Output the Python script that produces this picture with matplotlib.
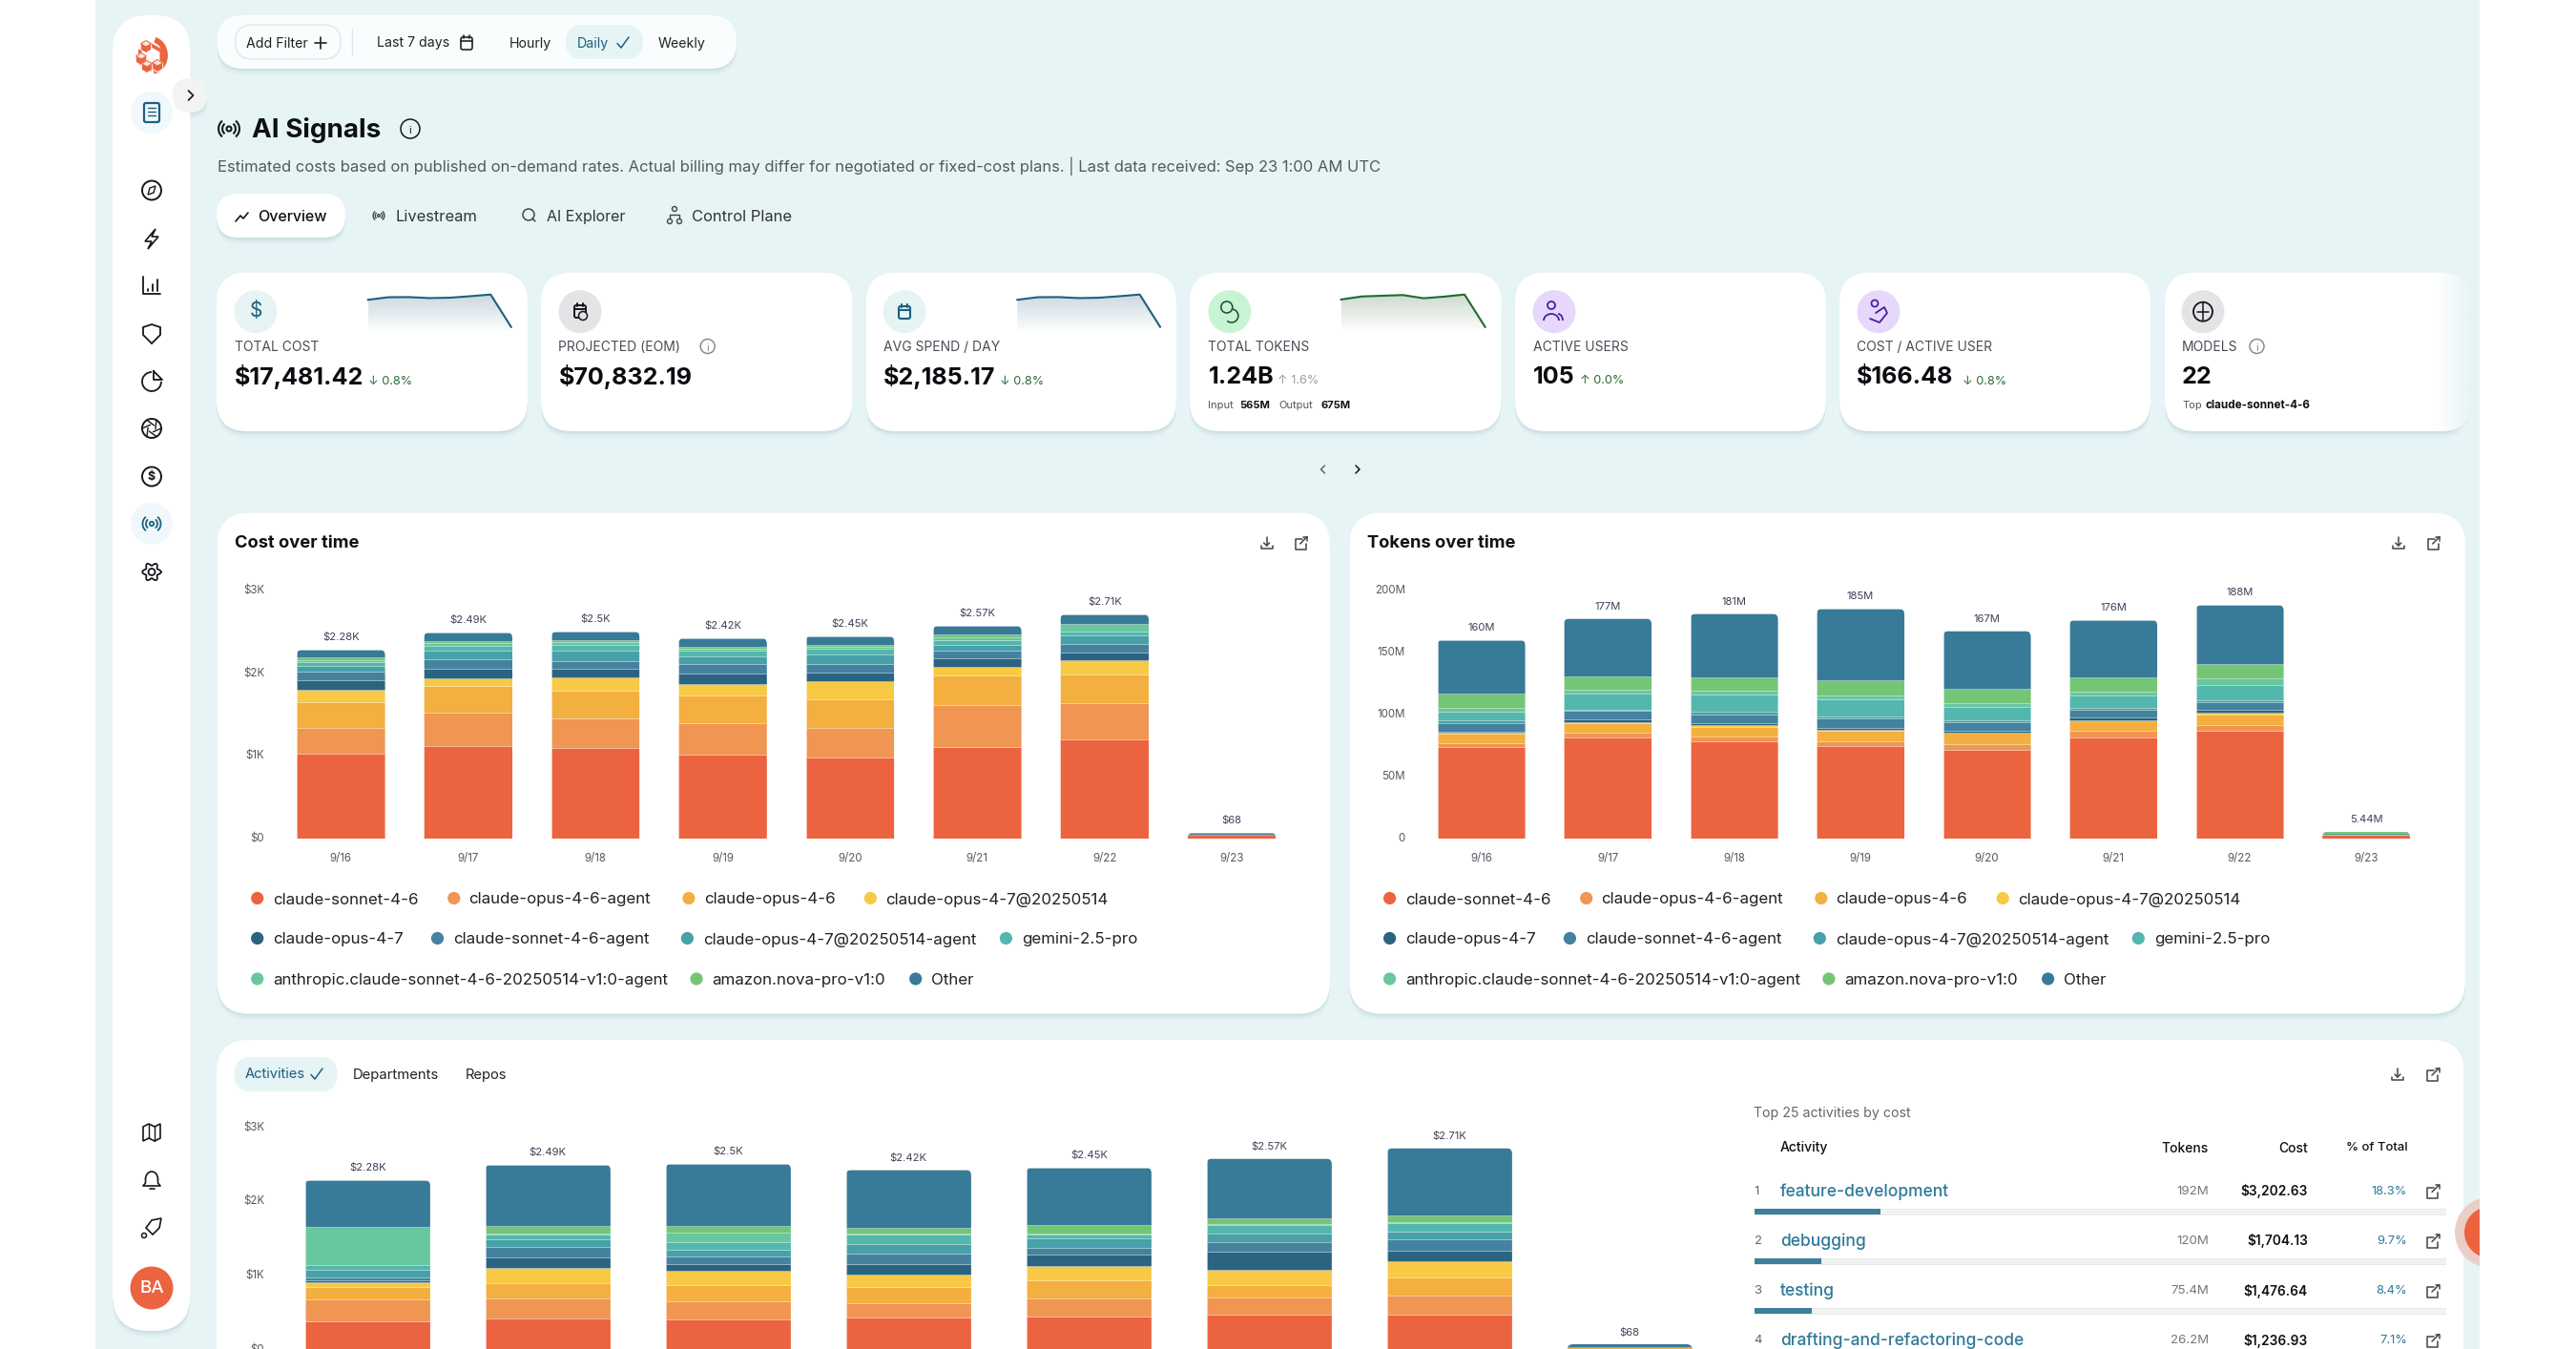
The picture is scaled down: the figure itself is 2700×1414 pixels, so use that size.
import numpy as np
import matplotlib
matplotlib.use("Agg")
import matplotlib.pyplot as plt
from matplotlib.patches import FancyBboxPatch, Circle, Arc, Polygon, Rectangle
from matplotlib.transforms import ScaledTranslation

plt.rcParams['font.family'] = ['Inter', 'DejaVu Sans']

W, H = 2700, 1414

# ---------- data ----------
days = ['9/16', '9/17', '9/18', '9/19', '9/20', '9/21', '9/22', '9/23']
series_names = ['claude-sonnet-4-6', 'claude-opus-4-6-agent', 'claude-opus-4-6', 'claude-opus-4-7@20250514',
                'claude-opus-4-7', 'claude-sonnet-4-6-agent', 'claude-opus-4-7@20250514-agent', 'gemini-2.5-pro',
                'anthropic.claude-sonnet-4-6-20250514-v1:0-agent', 'amazon.nova-pro-v1:0', 'Other']
series_colors = ['#EC6340', '#F09552', '#F3AF3F', '#F8C945', '#2A6480', '#44829F', '#48A0A8', '#53B7AD',
                 '#69C79E', '#74C576', '#377B98']

cost_sonnet = [1019, 1119, 1087, 1008, 980, 1107, 1198, 30]
cost_opus46_agent = [315, 397, 365, 377, 353, 504, 433, 5]
cost_opus46 = [308, 322, 334, 341, 346, 361, 353, 5]
cost_opus47_dated = [154, 97, 158, 135, 218, 99, 171, 3]
cost_opus47 = [108, 111, 104, 131, 103, 100, 95, 2]
cost_sonnet_agent = [115, 119, 95, 111, 103, 99, 99, 3]
cost_opus47_dated_agent = [66, 105, 123, 95, 115, 67, 99, 3]
cost_gemini = [42, 57, 71, 68, 68, 60, 52, 3]
cost_anthropic = [27, 31, 32, 28, 24, 36, 87, 7]
cost_nova = [31, 22, 20, 23, 27, 27, 8, 3]
cost_other = [95, 110, 111, 103, 108, 110, 115, 4]
cost_labels = ['$2.28K', '$2.49K', '$2.5K', '$2.42K', '$2.45K', '$2.57K', '$2.71K', '$68']
cost_totals = [2280, 2490, 2500, 2420, 2450, 2570, 2710, 68]

tok_sonnet = [73.1, 81.3, 78.3, 74.3, 71.2, 81.0, 86.8, 1.8]
tok_opus46_agent = [3.6, 3.8, 3.7, 4.0, 4.7, 5.2, 4.5, 0.2]
tok_opus46 = [7.9, 7.7, 7.9, 7.9, 8.8, 8.5, 8.4, 0.3]
tok_opus47_dated = [0.5, 1.0, 1.1, 1.1, 0.5, 0.5, 1.3, 0.1]
tok_opus47 = [0.8, 1.6, 2.0, 1.9, 1.3, 1.9, 2.2, 0.1]
tok_sonnet_agent = [7.1, 7.6, 6.5, 7.1, 7.2, 6.6, 6.3, 0.4]
tok_opus47_dated_agent = [1.9, 0.8, 2.1, 2.1, 1.5, 1.1, 1.5, 0.2]
tok_gemini = [6.9, 12.9, 14.3, 13.8, 10.9, 10.5, 12.3, 0.5]
tok_anthropic = [3.3, 3.0, 2.6, 3.1, 2.9, 3.0, 5.5, 0.7]
tok_nova = [11.6, 10.8, 11.4, 12.2, 11.6, 11.3, 11.7, 0.34]
tok_other = [43.3, 46.5, 51.1, 57.5, 46.4, 46.4, 47.5, 0.7]
tok_labels = ['160M', '177M', '181M', '185M', '167M', '176M', '188M', '5.44M']
tok_totals = [160, 177, 181, 185, 167, 176, 188, 5.44]

act_a = [381, 420, 407, 429, 446, 463, 463, 8]
act_b = [296, 266, 240, 197, 240, 231, 266, 2]
act_c = [159, 210, 223, 210, 244, 176, 243, 2]
act_d = [68, 206, 189, 175, 193, 206, 219, 2]
act_e = [26, 137, 90, 138, 154, 244, 142, 2]
act_f = [34, 145, 107, 145, 90, 129, 154, 2]
act_g = [112, 95, 90, 129, 125, 107, 103, 2]
act_h = [60, 73, 103, 129, 60, 124, 116, 2]
act_i = [510, 4, 120, 4, 4, 2, 4, 2]
act_j = [8, 107, 90, 81, 116, 79, 94, 2]
act_k = [626, 827, 841, 783, 778, 809, 906, 42]

kpi_labels = ['TOTAL COST', 'PROJECTED (EOM)', 'AVG SPEND / DAY', 'TOTAL TOKENS', 'ACTIVE USERS', 'COST / ACTIVE USER', 'MODELS']
kpi_values = ['$17,481.42', '$70,832.19', '$2,185.17', '1.24B', '105', '$166.48', '22']
kpi_deltas = ['↓ 0.8%', '', '↓ 0.8%', '↑ 1.6%', '↑ 0.0%', '↓ 0.8%', '']

table_rank = ['1', '2', '3', '4']
table_names = ['feature-development', 'debugging', 'testing', 'drafting-and-refactoring-code']
table_tokens = ['192M', '120M', '75.4M', '26.2M']
table_costs = ['$3,202.63', '$1,704.13', '$1,476.64', '$1,236.93']
table_pct = [18.3, 9.7, 8.4, 7.1]

# ---------- colours ----------
BG = '#E6F4F5'
INK = '#14171C'
TEAL = '#1F5F7F'
LINK = '#2F7A99'
GREEN = '#2B6B38'
ORANGE = '#EC6340'

fig = plt.figure(figsize=(W / 100, H / 100), dpi=100, facecolor='white')
bg = fig.add_axes([0, 0, 1, 1], zorder=0)
bg.set_xlim(0, W)
bg.set_ylim(H, 0)
bg.axis('off')


def T(x, y, s, size=10, color=INK, weight='normal', ha='left', va='center', ax=bg, dy=1.5, **kw):
    return ax.text(x, y + dy, s, fontsize=size, color=color, fontweight=weight, ha=ha, va=va, **kw)


def card(x0, y0, x1, y1, r, fc='white', shadow=True, z=2, ec='none'):
    if shadow:
        for d, a in ((7, .05), (4, .08), (2, .12)):
            bg.add_patch(FancyBboxPatch((x0 + r, y0 + r + d), x1 - x0 - 2 * r, y1 - y0 - 2 * r,
                                        boxstyle=f'round,pad={r},rounding_size={r}', fc='#7FA5AE', ec='none',
                                        alpha=a, zorder=z - .5))
    bg.add_patch(FancyBboxPatch((x0 + r, y0 + r), x1 - x0 - 2 * r, y1 - y0 - 2 * r,
                                boxstyle=f'round,pad={r},rounding_size={r}', fc=fc, ec=ec, lw=1, zorder=z))


def ln(xs, ys, c=INK, lw=1.3, z=6):
    bg.plot(xs, ys, color=c, lw=lw, zorder=z, solid_capstyle='round', solid_joinstyle='round')


def ring(x, y, r, c=INK, lw=1.3, fc='none', z=6):
    bg.add_patch(Circle((x, y), r, fc=fc, ec=c, lw=lw, zorder=z))


def dot(x, y, r, c, z=4, alpha=1):
    bg.add_patch(Circle((x, y), r, fc=c, ec='none', zorder=z, alpha=alpha))


def chev(x, y, d=1, c=INK, s=4.5, lw=1.3):
    ln([x - d * s * .5, x + d * s * .5, x - d * s * .5], [y - s, y, y + s], c, lw)


def check(x, y, c=TEAL, lw=1.1):
    ln([x - 6, x - 2, x + 6], [y + 0.5, y + 5, y - 6], c, lw)


def plus(x, y, c=INK):
    ln([x - 6, x + 6], [y, y], c, 1.2)
    ln([x, x], [y - 6, y + 6], c, 1.2)


def download(x, y, c='#444'):
    ln([x, x], [y - 6, y + 3], c, 1.1)
    ln([x - 3, x, x + 3], [y, y + 3, y], c, 1.1)
    ln([x - 6, x - 6, x + 6, x + 6], [y + 3, y + 6, y + 6, y + 3], c, 1.1)


def export(x, y, c='#444'):
    ln([x + 1, x - 6, x - 6, x + 5, x + 5], [y - 4, y - 4, y + 7, y + 7, y + 1], c, 1.1)
    ln([x - 1, x + 6.5], [y + 1, y - 6.5], c, 1.1)
    ln([x + 2.5, x + 6.5, x + 6.5], [y - 6.5, y - 6.5, y - 2.5], c, 1.1)


def signal(x, y, c=INK, s=1.0, lw=1.3):
    ring(x, y, 2.2 * s, c, lw)
    for r in (6, 9.5):
        bg.add_patch(Arc((x, y), 2 * r * s, 2 * r * s, theta1=-50, theta2=50, ec=c, lw=lw, zorder=6))
        bg.add_patch(Arc((x, y), 2 * r * s, 2 * r * s, theta1=130, theta2=230, ec=c, lw=lw, zorder=6))


def info(x, y, r=9, c=INK):
    ring(x, y, r, c, 1.1)
    T(x, y + .5, 'i', 8, c, ha='center', zorder=7)


def calendar(x, y, c=INK, lw=1.2):
    bg.add_patch(FancyBboxPatch((x - 6, y - 6), 12, 13, boxstyle='round,pad=0,rounding_size=2', fc='none', ec=c, lw=lw, zorder=6))
    ln([x - 6, x + 6], [y - 2, y - 2], c, lw)
    ln([x - 3, x - 3], [y - 8, y - 5], c, lw)
    ln([x + 3, x + 3], [y - 8, y - 5], c, lw)


def cube(x, y, s=6.5):
    hx = [(x + s * np.sin(a), y - s * np.cos(a)) for a in np.radians(np.arange(0, 360, 60))]
    bg.add_patch(Polygon(hx, fc=ORANGE, ec='white', lw=.7, zorder=7))
    top = [hx[0], hx[1], (x, y), hx[5]]
    bg.add_patch(Polygon(top, fc='#FBE3DB', ec=ORANGE, lw=.7, zorder=7.1))


# ---------- page ----------
bg.add_patch(Rectangle((100, 0), 2499, H, fc=BG, ec='none', zorder=0))

# sidebar
card(118, 16, 199.5, 1395, 38)
bg.add_patch(Arc((158, 58), 30, 34, theta1=-75, theta2=80, ec=ORANGE, lw=4.2, zorder=6))
hexa = [(158 + 13 * np.sin(a), 60 - 13 * np.cos(a)) for a in np.radians(np.arange(0, 360, 60))]
bg.add_patch(Polygon(hexa, fc='white', ec=ORANGE, lw=2.6, zorder=6))
for cx, cy in ((153, 49), (148, 62), (165, 69), (154, 70)):
    cube(cx, cy)
dot(159, 118, 22, '#F0F8FB')
bg.add_patch(FancyBboxPatch((151, 108), 16, 20, boxstyle='round,pad=0,rounding_size=2', fc='none', ec=TEAL, lw=1.6, zorder=6))
for yy in (113, 117, 121):
    ln([155, 163], [yy, yy], TEAL, 1.0)
card(181, 82, 217, 118, 17.9, fc='#F3F3F3')
chev(200, 100, 1, '#222', 5, 1.3)

ring(159, 199.5, 10, INK, 1.4)
bg.add_patch(Polygon([(163, 195), (161, 202), (155, 204), (157, 197)], fc='none', ec=INK, lw=1, zorder=6))
bg.add_patch(Polygon([(163, 240), (152, 253), (159, 253), (155, 261), (166, 248), (159, 248)], fc='none', ec=INK, lw=1.2, zorder=6))
ln([150, 150, 168], [290, 308, 308], INK, 1.3)
for xx, yy in ((155, 303), (160, 298), (165, 293)):
    ln([xx, xx], [yy, 305], INK, 1.3)
bg.add_patch(Polygon([(159, 340), (168, 343), (168, 351), (159, 360), (150, 351), (150, 343)], fc='none', ec=INK, lw=1.3, zorder=6))
bg.add_patch(Arc((159, 400), 20, 20, theta1=0, theta2=270, ec=INK, lw=1.3, zorder=6))
ln([161, 161, 170, 161], [389, 398, 398, 389], INK, 1.3)
ring(159, 449, 10, INK, 1.4)
for a in np.radians(np.arange(0, 360, 60)):
    ln([159 + 10 * np.cos(a), 159 + 4 * np.cos(a + 1.2)], [449 + 10 * np.sin(a), 449 + 4 * np.sin(a + 1.2)], INK, 1.0)
ring(159, 499.5, 10, INK, 1.4)
T(159, 499.5, '$', 9, INK, 'bold', ha='center', zorder=7, dy=0)
dot(159, 549, 22, '#F0F8FB')
signal(159, 549, TEAL)
ring(159, 599.5, 3.5, INK, 1.3)
gear_a = np.radians(np.arange(0, 361, 5))
gear_r = 8.2 + 1.6 * np.cos(6 * gear_a)
ln(159 + gear_r * np.cos(gear_a), 599.5 + gear_r * np.sin(gear_a), INK, 1.3)
bg.add_patch(Polygon([(150, 1181), (156, 1178), (162, 1181), (168, 1178), (168, 1193), (162, 1196), (156, 1193), (150, 1196)], fc='none', ec=INK, lw=1.2, zorder=6))
ln([156, 156], [1178, 1193], INK, 1.0)
ln([162, 162], [1181, 1196], INK, 1.0)
bg.add_patch(Arc((159, 1236), 13, 16, theta1=180, theta2=360, ec=INK, lw=1.2, zorder=6))
ln([152.5, 152.5, 150, 168, 165.5, 165.5], [1236, 1240, 1243, 1243, 1240, 1236], INK, 1.2)
ln([156.5, 161.5], [1246, 1246], INK, 1.2)
bg.add_patch(Polygon([(169, 1277), (167, 1287), (160, 1294), (153, 1287), (159, 1279)], fc='none', ec=INK, lw=1.2, zorder=6))
ring(151, 1295, 2.5, INK, 1.1)
dot(159, 1350, 22.5, ORANGE, 6)
T(159, 1350, 'BA', 13.5, 'white', 'medium', ha='center', zorder=7, dy=.5)

# filter bar
card(227.5, 16, 772, 72, 27.9, fc='#FAFDFD')
bg.add_patch(FancyBboxPatch((246.7 + 17.9, 26 + 17.9), 110.3 - 35.8, .2, boxstyle='round,pad=17.9,rounding_size=17.9', fc='#FAFDFD', ec='#DCE7E9', lw=1, zorder=3))
T(258, 44.5, 'Add Filter', 10.2, '#222', zorder=6)
plus(336, 45, '#222')
ln([369, 369], [30, 58], '#DCE7E9', 1, 4)
T(394.6, 44, 'Last 7 days', 10.2, '#222', zorder=6)
calendar(489, 45, '#222')
T(533.7, 44.5, 'Hourly', 10.2, '#222', zorder=6)
bg.add_patch(FancyBboxPatch((593 + 17.9, 26 + 17.9), 81 - 35.8, .2, boxstyle='round,pad=17.9,rounding_size=17.9', fc=BG, ec='none', zorder=3))
T(605, 44.5, 'Daily', 10.2, TEAL, zorder=6)
check(653, 45)
T(690, 44.5, 'Weekly', 10.2, '#222', zorder=6)

# heading
signal(240, 135, INK, 1.15, 1.5)
T(264, 134.5, 'AI Signals', 20, '#0D0F12', 'bold', zorder=6)
info(430, 135, 10)
T(227.5, 173, 'Estimated costs based on published on-demand rates. Actual billing may differ for negotiated or fixed-cost plans. | Last data received: Sep 23 1:00 AM UTC',
  11.95, '#55585E', zorder=6)

# tabs
card(227, 203, 362, 249, 22.9)
ln([247, 252, 255, 260], [232, 226, 229, 223], INK, 1.2)
T(270, 226, 'Overview', 11.5, '#111', 'medium', zorder=6)
signal(397, 226, '#444', .62, 1)
T(414, 226, 'Livestream', 11.9, '#333', zorder=6)
ring(554, 225, 6, '#444', 1.1)
ln([558, 561], [229, 232], '#444', 1.1)
T(572.6, 226, 'AI Explorer', 11.5, '#333', zorder=6)
ring(707, 219, 2.5, '#444', 1)
ring(702, 232, 2.5, '#444', 1)
ring(712, 232, 2.5, '#444', 1)
ln([702, 702, 712, 712], [229, 225, 225, 229], '#444', 1)
T(725, 226, 'Control Plane', 11.9, '#333', zorder=6)

# ---------- KPI cards ----------
card_x0 = [227, 567, 907.5, 1246.8, 1587.9, 1928, 2269]
card_x1 = [553, 893.5, 1233, 1573.6, 1913.8, 2254, 2590.5]
icon_x = [268, 608, 948, 1288.8, 1629, 1969, 2309]
icon_c = [BG, '#E4E4E6', BG, '#C9F4D4', '#E6D8FB', '#E6D8FB', '#E4E4E6']
text_x = [245.5, 585.4, 926, 1266.4, 1606.6, 1945.9, 2287]
delta_x = [386, None, 1048, 1338.8, 1655.7, 2056.6, None]
delta_c = [GREEN, None, GREEN, '#9A9CA0', GREEN, GREEN, None]
for i in range(7):
    card(card_x0[i], 285.7, card_x1[i], 452, 32)
    dot(icon_x[i], 326.7, 22.5, icon_c[i])
    T(text_x[i], 363, kpi_labels[i], 10, '#4A4D55', zorder=6)
    T(text_x[i], 393.5, kpi_values[i], 18.1, '#0A0C10', 'bold', zorder=6)
    if kpi_deltas[i]:
        T(delta_x[i], 398, kpi_deltas[i], 9.2, delta_c[i], zorder=6)
T(icon_x[0], 326, '$', 15, TEAL, ha='center', zorder=7, dy=0)
calendar(icon_x[1], 326, INK, 1.4)
ring(icon_x[1] + 3, 331, 4.5, INK, 1.1, fc='#E4E4E6', z=7)
calendar(icon_x[2], 327, TEAL, 1.5)
ring(icon_x[3] - 3, 322, 6, '#1F5B33', 1.2)
bg.add_patch(Arc((icon_x[3] + 2, 331), 14, 14, theta1=-80, theta2=130, ec='#1F5B33', lw=1.2, zorder=6))
ix = icon_x[4]
ring(ix - 3, 320, 4, '#4A1FA0', 1.3)
bg.add_patch(Arc((ix - 3, 336), 16, 14, theta1=180, theta2=360, ec='#4A1FA0', lw=1.3, zorder=6))
bg.add_patch(Arc((ix + 4, 336), 10, 14, theta1=270, theta2=360, ec='#4A1FA0', lw=1.3, zorder=6))
ring(icon_x[5] - 4, 318, 3.5, '#4A1FA0', 1.3)
ln([icon_x[5] - 9, icon_x[5] + 1, icon_x[5] + 9, icon_x[5] + 6, icon_x[5] - 3], [334, 338, 328, 322, 328], '#4A1FA0', 1.3)
ring(icon_x[6], 326.7, 10, INK, 1.3)
ln([icon_x[6], icon_x[6]], [317, 336], INK, 1.1)
ln([icon_x[6] - 6, icon_x[6] + 6], [326.7, 326.7], INK, 1.1)
info(741.7, 363, 7.5, '#8A8C92')
info(2365.5, 363, 7.5, '#8A8C92')
T(1266.4, 424, 'Input', 8, '#555', zorder=6)
T(1299.5, 424, '565M', 8, '#111', 'bold', zorder=6)
T(1340.5, 424, 'Output', 8, '#555', zorder=6)
T(1384.3, 424, '675M', 8, '#111', 'bold', zorder=6)
T(2287, 424, 'Top', 8, '#555', zorder=6)
T(2312, 424, 'claude-sonnet-4-6', 8.4, '#111', 'bold', zorder=6)
chev(1386.5, 492, -1, '#666', 4, 1.1)
chev(1423, 492, 1, '#111', 4, 1.1)

# fade on the clipped last card
fade = np.zeros((1, 64, 4))
fade[..., :3] = matplotlib.colors.to_rgb(BG)
fade[..., 3] = np.linspace(0, 1, 64)
bg.imshow(fade, extent=(2552, 2592, 452, 285), aspect='auto', zorder=3.5, interpolation='bilinear')
bg.set_xlim(0, W)
bg.set_ylim(H, 0)


def axes_px(x0, x1, ytop, ybot, z=5):
    a = fig.add_axes([x0 / W, 1 - ybot / H, (x1 - x0) / W, (ybot - ytop) / H], zorder=z)
    a.patch.set_alpha(0)
    return a


def spark(x0, x1, vals, color, top_rgb):
    a = axes_px(x0, x1, 308.7, 349, z=5)
    vals = np.array(vals, float)
    span = vals.max() - vals.min()
    base = vals.min() - span * 6.3 / 34
    xs = np.arange(len(vals))
    poly = a.fill_between(xs, vals, base, color='none')
    grad = np.zeros((64, 2, 4))
    grad[..., :3] = matplotlib.colors.to_rgb(top_rgb)
    grad[..., 3] = np.linspace(.95, 0, 64)[:, None]
    im = a.imshow(grad, extent=(0, len(vals) - 1, base, vals.max()), aspect='auto', origin='upper', zorder=1)
    im.set_clip_path(poly.get_paths()[0], transform=a.transData)
    a.plot(xs, vals, color=color, lw=1.5, zorder=2, clip_on=False)
    a.set_xlim(0, len(vals) - 1)
    a.set_ylim(base, vals.max())
    a.axis('off')


spark(385.8, 535.7, cost_totals, '#1F5F7F', '#C9D6DE')
spark(1066.3, 1216, cost_totals, '#1F5F7F', '#C9D6DE')
spark(1405.7, 1556.6, tok_totals, '#1F6B2E', '#CBD8CD')

# ---------- stacked charts ----------
cost_series = [cost_sonnet, cost_opus46_agent, cost_opus46, cost_opus47_dated, cost_opus47, cost_sonnet_agent,
               cost_opus47_dated_agent, cost_gemini, cost_anthropic, cost_nova, cost_other]
tok_series = [tok_sonnet, tok_opus46_agent, tok_opus46, tok_opus47_dated, tok_opus47, tok_sonnet_agent,
              tok_opus47_dated_agent, tok_gemini, tok_anthropic, tok_nova, tok_other]
act_series = [act_a, act_b, act_c, act_d, act_e, act_f, act_g, act_h, act_i, act_j, act_k]


def stacked(x0, pitch, ytop, ybase, ymax, series, labels, yticks, yticklabels, show_x=True, label_off=12.6):
    a = axes_px(x0, x0 + pitch * 8, ytop, ybase)
    a.set_xlim(-.5, 7.5)
    a.set_ylim(0, ymax)
    xs = np.arange(len(days))
    bottom = np.zeros(len(days))
    bars = []
    for vals, col in zip(series, series_colors):
        b = a.bar(xs, vals, bottom=bottom, width=.694, color=col, edgecolor=(1, 1, 1, .28), linewidth=.5, zorder=2)
        b[-1].set_edgecolor('none')
        bars.append(b)
        bottom = bottom + np.array(vals, float)
    for i in range(len(days)):
        (xl, yt) = a.transData.transform((i - .347, bottom[i]))
        (xr, yb) = a.transData.transform((i + .347, 0))
        r = 6 if bottom[i] > ymax * .02 else 3
        clip = FancyBboxPatch((xl + r, yb - 30 + r), xr - xl - 2 * r, yt - yb + 30 - 2 * r,
                              boxstyle=f'round,pad={r},rounding_size={r}')
        clip.set_transform(matplotlib.transforms.IdentityTransform())
        for b in bars:
            b[i].set_clip_path(clip)
        a.annotate(labels[i], (i, bottom[i]), xytext=(0, label_off * .72), textcoords='offset points',
                   ha='center', va='center', fontsize=8.1, color='#3A4256', annotation_clip=False)
    for s in a.spines.values():
        s.set_visible(False)
    a.set_yticks(yticks, yticklabels)
    if show_x:
        a.set_xticks(xs, days)
    else:
        a.set_xticks([])
    a.tick_params(axis='both', length=0, labelsize=8.3, labelcolor='#555A62')
    a.tick_params(axis='y', pad=9.8)
    a.tick_params(axis='x', pad=10.8)
    up = ScaledTranslation(0, .6 / 72, fig.dpi_scale_trans)
    for t in a.get_yticklabels():
        t.set_transform(t.get_transform() + up)
    return a


def legend(dx):
    rows = [(941.5, [(269.7, 286.2, 0), (475.8, 491, 1), (721.9, 737.7, 2), (912.3, 928, 3)]),
            (983.5, [(269.7, 286.2, 4), (458.5, 475, 5), (720.4, 737, 6), (1054.4, 1071, 7)]),
            (1026, [(269.7, 286.2, 8), (730, 746, 9), (959.7, 976, 10)])]
    for yy, items in rows:
        for mx, tx, k in items:
            dot(mx + dx, yy, 6.6, series_colors[k], 6)
            T(tx + dx, yy, series_names[k], 12.2, '#222', zorder=6)


for x0, x1, ttl, tx, dl, ex in ((227.5, 1394, 'Cost over time', 245.6, 1327.6, 1363.7),
                                (1414.5, 2584, 'Tokens over time', 1432.6, 2513.8, 2550.7)):
    card(x0, 537.6, x1, 1062.7, 34)
    T(tx, 568.5, ttl, 13.2, '#111', 'bold', zorder=6)
    download(dl, 569)
    export(ex, 569)

stacked(290.6, 133.4, 618.5, 878.5, 3000, cost_series, cost_labels, [0, 1000, 2000, 3000], ['$0', '$1K', '$2K', '$3K'])
stacked(1486.35, 132.5, 618.5, 878.5, 200, tok_series, tok_labels, [0, 50, 100, 150, 200], ['0', '50M', '100M', '150M', '200M'])
legend(0)
legend(1186.9)

# ---------- lower panel ----------
card(227, 1090, 2582.5, 1500, 34)
bg.add_patch(FancyBboxPatch((245.5 + 18, 1108 + 18), 108.2 - 36, .2, boxstyle='round,pad=18,rounding_size=18', fc=BG, ec='none', zorder=3))
T(256.7, 1125, 'Activities', 10.6, TEAL, zorder=6)
check(332, 1126)
T(370, 1125, 'Departments', 10.7, '#222', zorder=6)
T(488, 1125, 'Repos', 10.6, '#222', zorder=6)
download(2513, 1126)
export(2550, 1126)
stacked(290.8, 189, 1414.3 - 233.4, 1414.3, 3000, act_series, cost_labels, [0, 1000, 2000, 3000], ['$0', '$1K', '$2K', '$3K'], show_x=False, label_off=12.5)

T(1838.5, 1166, 'Top 25 activities by cost', 10.2, '#666', zorder=6)
T(1866, 1202, 'Activity', 10, '#111', 'medium', zorder=6)
T(2315, 1202, 'Tokens', 10, '#111', 'medium', ha='right', zorder=6)
T(2418.8, 1202, 'Cost', 10, '#111', 'medium', ha='right', zorder=6)
T(2523.3, 1202, '% of Total', 9.4, '#111', 'medium', ha='right', zorder=6)
row_y = [1247.5, 1299.5, 1352, 1404]
for i in range(4):
    y = row_y[i]
    T(1838.5, y, table_rank[i], 9.5, '#666', zorder=6)
    T(1866, y, table_names[i], 12.5, LINK, 'medium', zorder=6)
    T(2315, y, table_tokens[i], 9.6, '#777', ha='right', zorder=6)
    T(2418.8, y, table_costs[i], 9.9, '#111', 'semibold', ha='right', zorder=6)
    T(2523.3, y, f'{table_pct[i]}%', 9.3, LINK, ha='right', zorder=6)
    export(2550, y + 1)
tbl = axes_px(1838.5, 2563.5, 1265, 1380)
tbl.set_xlim(0, 100)
tbl.barh(range(3), [100] * 3, height=.115, color='#F1F2F2', edgecolor='#E6E8E8', linewidth=.6, zorder=1)
tbl.barh(range(3), table_pct[:3], height=.115, color='#3E7F9C', zorder=2)
tbl.set_ylim(2 + 5.7 / 52, -5.3 / 52)
tbl.axis('off')

# chat bubble clipped by page edge
dot(2610, 1291.7, 37, '#E9CFC6', 4)
dot(2610, 1291.7, 27, ORANGE, 5)
bg.add_patch(Rectangle((2599, 0), 101, H, fc='white', ec='none', zorder=8))

fig.savefig('out.png', dpi=100, facecolor='white')
